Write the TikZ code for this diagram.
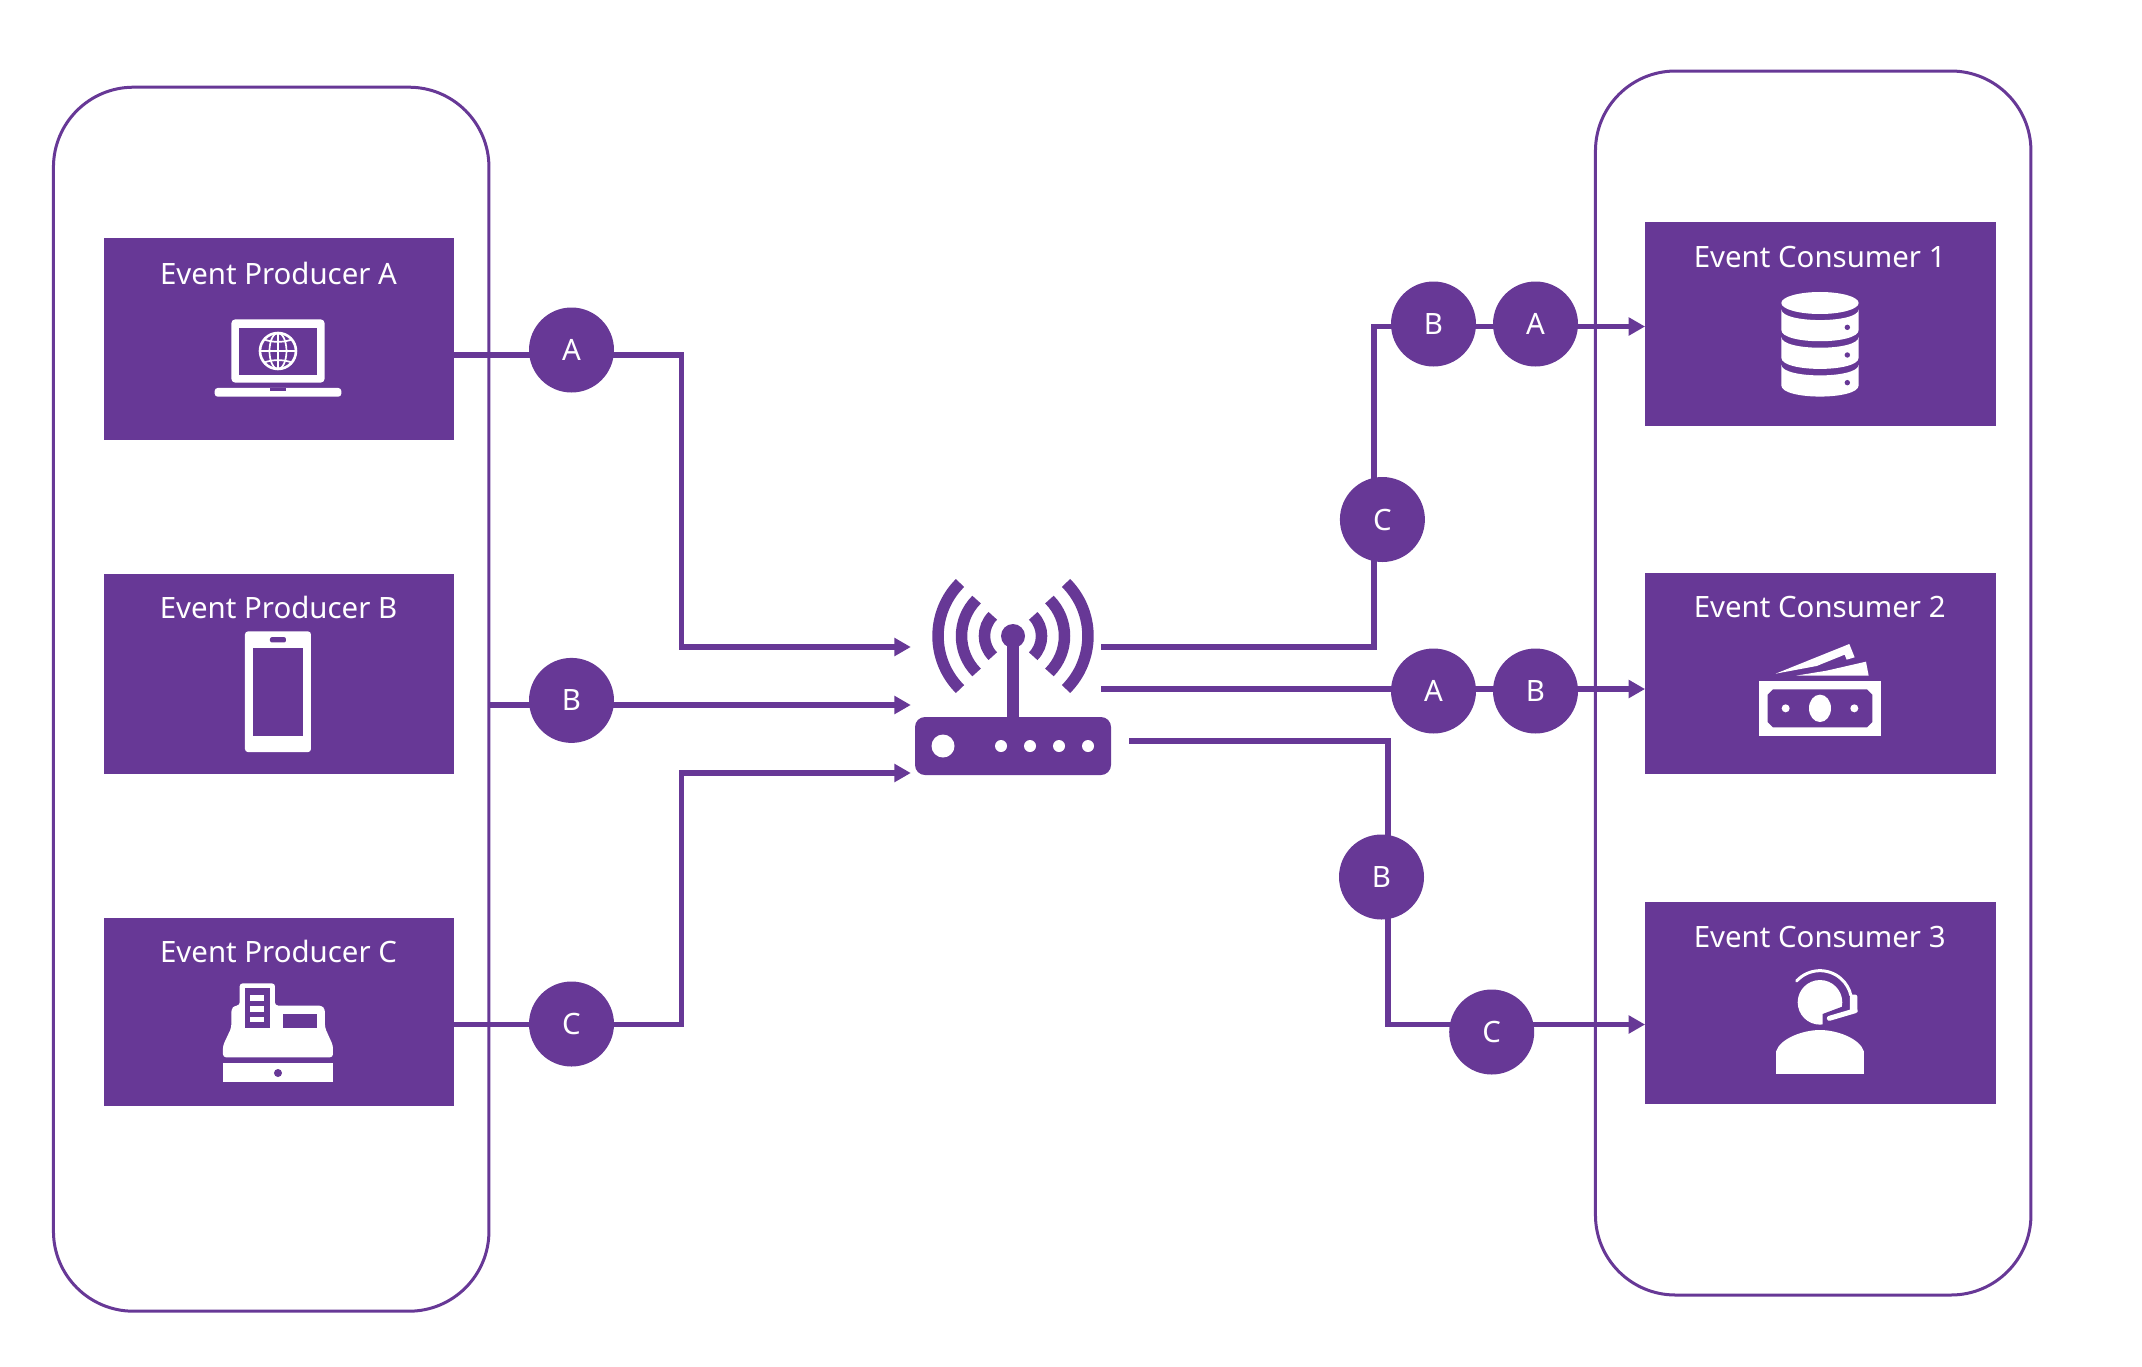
\documentclass[tikz,border=0pt]{standalone}
\usepackage{fontspec}
\setmainfont{Noto Sans}
\usetikzlibrary{arrows.meta,backgrounds,calc}
\definecolor{ev}{RGB}{103,56,150}
\newcommand{\tg}[1]{\raisebox{-3pt}{#1}}
\tikzset{
  panel/.style={draw=ev,line width=3pt,rounded corners=80pt,minimum width=435.5pt,minimum height=1224pt,inner sep=0pt},
  evbox/.style={fill=ev,minimum width=350.5pt,inner sep=0pt},
  title/.style={text=white,font=\fontsize{29.4}{32}\selectfont,inner sep=0pt},
  tag/.style={circle,fill=ev,minimum size=85pt,inner sep=0pt,text=white,font=\fontsize{29.4}{32}\selectfont},
  link/.style={draw=ev,line width=5.5pt},
  flow/.style={link,-{Triangle[length=16.5pt,width=17.5pt]}},
  ico/.style={fill=white,draw=none},
  hole/.style={fill=ev,draw=none},
  wave/.style={draw=ev,line width=11.5pt},
}
\begin{document}
\begin{tikzpicture}[x=1pt,y=-1pt]
\useasboundingbox (0,0) rectangle (2142,1366);
% containers
\node[panel] (left) at (271.2,699.2) {};
\node[panel] (right) at (1813.2,683) {};
% boxes
\node[evbox,minimum height=202.5pt] (pa) at (278.8,338.8) {};
\node[evbox,minimum height=200.5pt] (pb) at (278.8,674) {};
\node[evbox,minimum height=188pt] (pc) at (278.8,1011.5) {};
\node[evbox,minimum height=204.5pt] (c1) at (1820.5,324) {};
\node[evbox,minimum height=200.5pt] (c2) at (1820.5,673.7) {};
\node[evbox,minimum height=202.5pt] (c3) at (1820.5,1003) {};
\node[title] (tpa) at (278.5,273) {Event Producer A};
\node[title] (tpb) at (278.5,607) {Event Producer B};
\node[title] (tpc) at (278.5,951) {Event Producer C};
\node[title] (tc1) at (1819.7,257) {Event Consumer 1};
\node[title] (tc2) at (1819.7,606.7) {Event Consumer 2};
\node[title] (tc3) at (1819.7,937) {Event Consumer 3};
% tags
\node[tag] (ta) at (571.5,350) {\tg{A}};
\node[tag] (tb) at (571.5,700.4) {\tg{B}};
\node[tag] (tc) at (571.5,1024) {\tg{C}};
\node[tag] (rb1) at (1433.5,324) {\tg{B}};
\node[tag] (ra1) at (1535.5,324) {\tg{A}};
\node[tag] (rc1) at (1382.4,519.5) {\tg{C}};
\node[tag] (ra2) at (1433.5,691) {\tg{A}};
\node[tag] (rb2) at (1535.5,691) {\tg{B}};
\node[tag] (rb3) at (1381.5,877) {\tg{B}};
\node[tag] (rc3) at (1491.7,1032) {\tg{C}};
% router
\node[fill=ev,rounded corners=10pt,minimum width=196pt,minimum height=58pt,inner sep=0pt] (router) at (1013,746) {};
\fill[white] (943,746) circle[radius=11.5pt];
\foreach \xx in {1001,1030,1059,1088} \fill[white] (\xx,746) circle[radius=6pt];
\fill[ev] (1007,636) rectangle (1019,720);
\fill[ev] (1013,636) circle[radius=12pt];
\foreach \rr/\dd in {75/53,51.5/36.4,28.5/20.2}{
  \draw[wave] ($(1013,636)+(-\dd,-\dd)$) arc[start angle=135,end angle=225,radius=\rr pt];
  \draw[wave] ($(1013,636)+(\dd,\dd)$) arc[start angle=-45,end angle=45,radius=\rr pt];
}
% bends
\coordinate (h1) at (681.6,355);
\coordinate (v1) at (681.6,647);
\coordinate (h2) at (681.6,705);
\coordinate (h3) at (681.6,1024.5);
\coordinate (v3) at (681.6,773);
\coordinate (o1) at (1101,647);
\coordinate (u1) at (1374,326.5);
\coordinate (b1) at (1374,647);
\coordinate (o2) at (1101,689);
\coordinate (o3) at (1129,741);
\coordinate (b3) at (1388,741);
\coordinate (d3) at (1388,1024.5);
\coordinate (inp) at ([xshift=-4pt]router.west);
\begin{pgfonlayer}{background}
\draw[flow] (pa.east |- h1) -- (h1) -- (v1) -- (inp |- v1);
\draw[flow] (left.east |- h2) -- (h2) -- (inp |- h2);
\draw[flow] (pc.east |- h3) -- (h3) -- (v3) -- (inp |- v3);
\draw[flow] (o1) -- (b1) -- (u1) -- (c1.west |- u1);
\draw[flow] (o2) -- (c2.west |- o2);
\draw[flow] (o3) -- (b3) -- (d3) -- (c3.west |- d3);
\end{pgfonlayer}
% laptop
\begin{scope}[shift={(90,220)},x=0.3333pt,y=-0.3333pt]
\fill[ico,rounded corners=4pt] (424,488) -- (424,298) -- (704,298) -- (704,488) -- cycle;
\fill[hole] (448,323) rectangle (680,464);
\fill[ico,rounded corners=3pt] (374,504) -- (754,504) -- (754,530) -- (374,530) -- cycle;
\fill[hole] (540,504) rectangle (588,514);
\draw[white,line width=2.6pt] (564,393) circle[radius=18pt];
\draw[white,line width=1.7pt] (564,393) ellipse[x radius=8.5pt,y radius=18pt];
\draw[white,line width=1.7pt] (564,339) -- (564,447);
\draw[white,line width=1.7pt] (510,393) -- (618,393);
\draw[white,line width=1.7pt] (522,358) .. controls (545,368) and (583,368) .. (606,358);
\draw[white,line width=1.7pt] (522,428) .. controls (545,418) and (583,418) .. (606,428);
\end{scope}
% phone
\begin{scope}[shift={(90,560)},x=0.3333pt,y=-0.357pt]
\fill[ico,rounded corners=3pt] (465,200) rectangle (663,538);
\fill[hole] (490,246) rectangle (638,492);
\fill[hole,rounded corners=2pt] (540,216) rectangle (588,231);
\end{scope}
% register
\begin{scope}[shift={(90,560)},x=0.3333pt,y=-0.357pt]
\fill[ico,rounded corners=3pt] (399,1393) -- (399,1360) -- (424,1310) -- (424,1258) -- (434,1248) -- (449,1248) -- (449,1186) -- (555,1186) -- (555,1248) -- (695,1248) -- (705,1258) -- (705,1310) -- (729,1360) -- (729,1393) -- cycle;
\fill[hole] (465,1200) rectangle (540,1310);
\fill[ico] (481,1218) rectangle (523,1234);
\fill[ico] (481,1249) rectangle (523,1265);
\fill[ico] (481,1280) rectangle (523,1295);
\fill[hole] (580,1272) rectangle (680,1310);
\fill[ico] (399,1410) rectangle (729,1463);
\fill[hole] (564,1437) circle[radius=4pt];
\end{scope}
% database
\begin{scope}[shift={(1640,210)},x=0.3333pt,y=-0.3333pt]
\fill[ico] (540,279) ellipse[x radius=38.67pt,y radius=11pt];
\foreach \zz in {298,381,464}{
  \fill[ico] (424,\zz) .. controls (424,\zz+43) and (656,\zz+43) .. (656,\zz) -- (656,\zz+62) .. controls (656,\zz+107) and (424,\zz+107) .. (424,\zz+62) -- cycle;
  \fill[hole] (622,\zz+54) circle[radius=2.7pt];
}
\end{scope}
% money
\begin{scope}[shift={(1640,570)},x=0.3333pt,y=-0.3333pt]
\fill[ico] (358,333) rectangle (722,497);
\fill[hole] (399,358) -- (681,358) -- (697,374) -- (697,456) -- (681,472) -- (399,472) -- (383,456) -- (383,374) -- cycle;
\fill[ico] (540,415) ellipse[x radius=11pt,y radius=13.7pt];
\fill[ico] (437,415) circle[radius=4pt];
\fill[ico] (643,415) circle[radius=4pt];
\fill[ico] (407,311) -- (628,222) -- (644,262) -- (620,269) -- (614,254) -- (530,288) -- cycle;
\fill[ico] (468,317) -- (560,302) -- (678,275) -- (686,317) -- (597,317) -- cycle;
\end{scope}
% person
\begin{scope}[shift={(1640,900)},x=0.3333pt,y=-0.3333pt]
\fill[ico] (408,522) -- (408,455) .. controls (420,415) and (490,390) .. (540,390) .. controls (590,390) and (660,415) .. (672,455) -- (672,522) -- cycle;
\fill[ico] (540,307) circle[radius=22.3pt];
\fill[hole] (548,385) -- (548,342) -- (612,318) -- (640,318) -- (640,385) -- cycle;
\draw[white,line width=3pt,line cap=round] (469.8,243) arc[start angle=137.6,end angle=12.8,radius=31.67pt];
\fill[ico,rounded corners=2pt] (630,284) -- (652,284) -- (652,333) -- (630,340) -- cycle;
\draw[white,line width=5pt,line cap=round] (646,332) -- (568,355);
\end{scope}
\end{tikzpicture}
\end{document}
